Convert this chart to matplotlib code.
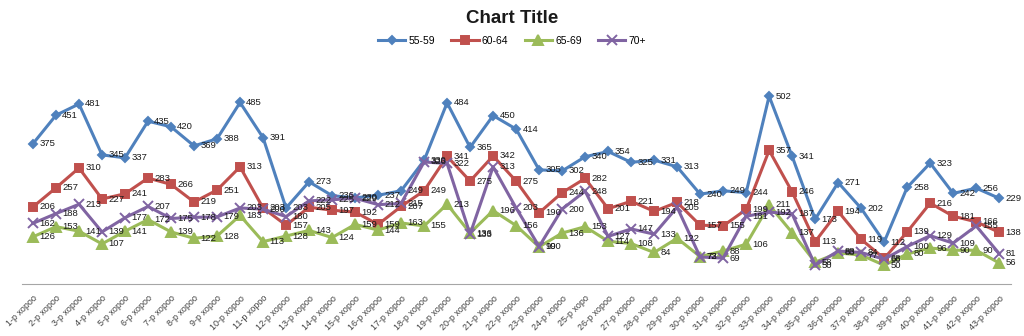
import matplotlib
matplotlib.use('Agg')
import matplotlib.pyplot as plt

plt.rcParams['font.family'] = ['Liberation Sans', 'DejaVu Sans']

categories = [str(i) + '-р хороо' for i in range(1, 44)]
categories[24] = '25-р хоро'

s55_59 = [375, 451, 481, 345, 337, 435, 420, 369, 388, 485,
          391, 203, 273, 236, 230, 237, 249, 330, 484, 365,
          450, 414, 305, 302, 340, 354, 325, 331, 313, 240,
          249, 244, 502, 341, 173, 271, 202, 112, 258, 323,
          242, 256, 229]
s60_64 = [206, 257, 310, 227, 241, 283, 266, 219, 251, 313,
          203, 157, 205, 197, 192, 159, 207, 249, 341, 275,
          342, 275, 190, 244, 282, 201, 221, 194, 218, 157,
          155, 199, 357, 246, 113, 194, 119, 68, 139, 216,
          181, 166, 138]
s65_69 = [126, 153, 141, 107, 141, 172, 139, 122, 128, 183,
          113, 128, 143, 124, 159, 144, 163, 155, 213, 136,
          196, 156, 99, 136, 153, 114, 108, 84, 122, 73,
          88, 106, 211, 137, 58, 83, 77, 50, 80, 96,
          90, 90, 56]
s70 = [162, 188, 213, 139, 177, 207, 175, 178, 179, 203,
       200, 180, 222, 225, 229, 212, 215, 326, 322, 133,
       313, 203, 100, 200, 248, 127, 147, 133, 205, 72,
       69, 181, 192, 187, 50, 88, 84, 66, 100, 129,
       109, 155, 81]

series = [('55-59', s55_59, '#4F81BD', 'D', 4.5),
          ('60-64', s60_64, '#C0504D', 's', 5.5),
          ('65-69', s65_69, '#9BBB59', '^', 6.5),
          ('70+', s70, '#8064A2', 'x', 6.5)]

x = list(range(1, len(categories) + 1))

fig = plt.figure(figsize=(10.24, 3.36), dpi=100)
ax = fig.add_axes([0.021, 0.155, 0.966, 0.668])

for name, vals, col, mk, ms in series:
    ax.plot(x, vals, color=col, lw=2.2, marker=mk, markersize=ms,
            markeredgewidth=1.4, label=name)
    # data labels to the right of each point
    for xi, v in zip(x, vals):
        ax.annotate(str(v), (xi, v), xytext=(4.5, 0), textcoords='offset points',
                    ha='left', va='center', fontsize=6.8, color='#1a1a1a')

ax.set_xlim(0.5, len(categories) + 0.5)
ax.set_ylim(0, 600)
ax.set_xticks(x)
ax.set_xticklabels(categories, rotation=45, ha='right', rotation_mode='anchor',
                   fontsize=6.5, color='#404040')
ax.tick_params(axis='x', length=0, pad=7)
ax.set_yticks([])
for side in ['left', 'right', 'top']:
    ax.spines[side].set_visible(False)
ax.spines['bottom'].set_color('#A6A6A6')

fig.text(0.5, 0.945, 'Chart Title', ha='center', va='center',
         fontsize=13.5, fontweight='bold', color='#1a1a1a')
fig.legend(loc='center', bbox_to_anchor=(0.5, 0.878), ncol=4, frameon=False,
           fontsize=7.5, handlelength=2.6, columnspacing=1.6, handletextpad=0.3)

plt.savefig('out.png', dpi=100)
